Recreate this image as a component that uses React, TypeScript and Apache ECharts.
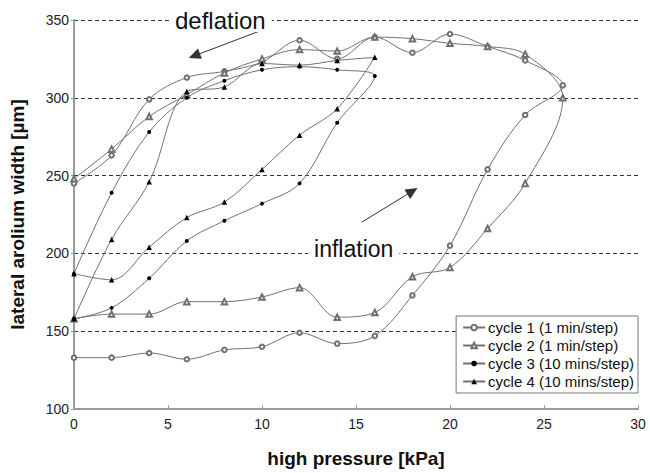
import React, { useEffect, useRef } from "react";
import * as echarts from "echarts";

const pressureUpLong = [0, 2, 4, 6, 8, 10, 12, 14, 16, 18, 20, 22, 24, 26];
const pressureDownLong = [24, 22, 20, 18, 16, 14, 12, 10, 8, 6, 4, 2, 0];
const pressureUpShort = [0, 2, 4, 6, 8, 10, 12, 14, 16];
const pressureDownShort = [14, 12, 10, 8, 6, 4, 2, 0];

const cycle1Up = [133, 133, 136, 132, 138, 140, 149, 142, 147, 173, 205, 254, 289, 308];
const cycle1Down = [324, 333, 341, 329, 339, 325, 337, 323, 317, 313, 299, 263, 245];
const cycle2Up = [158, 161, 161, 169, 169, 172, 178, 159, 162, 185, 191, 216, 245, 300];
const cycle2Down = [328, 333, 335, 338, 339, 330, 331, 325, 316, 302, 288, 267, 248];
const cycle3Up = [158, 165, 184, 208, 221, 232, 245, 284, 314];
const cycle3Down = [318, 320, 318, 311, 300, 278, 239, 187];
const cycle4Up = [187, 183, 204, 223, 233, 254, 276, 293, 326];
const cycle4Down = [324, 321, 322, 307, 304, 246, 209, 158];

const seriesNames = [
  "cycle 1 (1 min/step)",
  "cycle 2 (1 min/step)",
  "cycle 3 (10 mins/step)",
  "cycle 4 (10 mins/step)",
];

const FONT = "'Liberation Sans', Arial, sans-serif";

function pairs(xUp: number[], yUp: number[], xDown: number[], yDown: number[]) {
  const out: number[][] = [];
  xUp.forEach((x, i) => out.push([x, yUp[i]]));
  xDown.forEach((x, i) => out.push([x, yDown[i]]));
  return out;
}

export default function App() {
  const ref = useRef<HTMLDivElement>(null);
  useEffect(() => {
    if (!ref.current) return;
    const chart = echarts.init(ref.current, null, { renderer: "svg" });
    const data = [
      pairs(pressureUpLong, cycle1Up, pressureDownLong, cycle1Down),
      pairs(pressureUpLong, cycle2Up, pressureDownLong, cycle2Down),
      pairs(pressureUpShort, cycle3Up, pressureDownShort, cycle3Down),
      pairs(pressureUpShort, cycle4Up, pressureDownShort, cycle4Down),
    ];
    const symbols = ["emptyCircle", "emptyTriangle", "circle", "triangle"];
    const sizes = [4.5, 5.5, 4, 5.5];
    const series: any[] = data.map((d, i) => ({
      name: seriesNames[i],
      type: "line",
      data: d,
      smooth: 0.35,
      symbol: symbols[i],
      symbolSize: sizes[i],
      showSymbol: true,
      lineStyle: { color: "#707070", width: 1 },
      itemStyle: { color: i < 2 ? "#707070" : "#000", borderWidth: 1 },
      z: 3,
    }));
    series[0].markLine = {
      silent: true,
      symbol: ["none", "triangle"],
      symbolSize: [11, 12],
      label: { show: false },
      lineStyle: { color: "#333", type: "solid", width: 1 },
      data: [
        [{ coord: [9.9, 343] }, { coord: [6.4, 327] }],
        [{ coord: [15.3, 220] }, { coord: [18.0, 240] }],
      ],
    };
    const option: any = {
      animation: false,
      backgroundColor: "#fff",
      grid: { left: 73, right: 12, top: 20, bottom: 64 },
      xAxis: {
        type: "value",
        min: 0,
        max: 30,
        interval: 5,
        name: "high pressure [kPa]",
        nameLocation: "middle",
        nameGap: 40,
        nameTextStyle: { fontFamily: FONT, fontSize: 19, fontWeight: "bold", color: "#111" },
        axisLine: { lineStyle: { color: "#999", width: 2 } },
        axisTick: { inside: true, length: 4, lineStyle: { color: "#999" } },
        axisLabel: { fontFamily: FONT, fontSize: 14, color: "#222", margin: 8 },
        splitLine: { show: false },
      },
      yAxis: {
        type: "value",
        min: 100,
        max: 350,
        interval: 50,
        name: "lateral arolium width [µm]",
        nameLocation: "middle",
        nameGap: 47,
        nameTextStyle: { fontFamily: FONT, fontSize: 19, fontWeight: "bold", color: "#111" },
        axisLine: { show: true, lineStyle: { color: "#999", width: 2 } },
        axisTick: { show: true, length: 3, lineStyle: { color: "#999" } },
        axisLabel: { fontFamily: FONT, fontSize: 14, color: "#222", margin: 5 },
        splitLine: { show: true, lineStyle: { color: "#333", type: [4, 3], width: 1 } },
      },
      legend: {
        orient: "vertical",
        right: 12,
        top: 316,
        data: seriesNames,
        backgroundColor: "#fff",
        borderColor: "#777",
        borderWidth: 1,
        borderRadius: 0,
        padding: [4, 4, 4, 6],
        itemGap: 3,
        itemWidth: 22,
        itemHeight: 7,
        textStyle: { fontFamily: FONT, fontSize: 15, color: "#111", padding: [0, 0, 0, -2] },
      },
      series,
    };
    chart.setOption(option);
    const p1 = chart.convertToPixel({ gridIndex: 0 }, [5.05, 350]) as number[];
    const p2 = chart.convertToPixel({ gridIndex: 0 }, [12.45, 203]) as number[];
    chart.setOption({
      graphic: [
        {
          type: "text",
          x: p1[0],
          y: p1[1],
          z: 10,
          style: {
            text: "deflation",
            fontFamily: FONT,
            fontSize: 24,
            fill: "#111",
            verticalAlign: "middle",
            align: "left",
            backgroundColor: "#fff",
            padding: [0, 6, 0, 6],
          },
        },
        {
          type: "text",
          x: p2[0],
          y: p2[1],
          z: 10,
          style: {
            text: "inflation",
            fontFamily: FONT,
            fontSize: 23,
            fill: "#111",
            verticalAlign: "middle",
            align: "left",
            backgroundColor: "#fff",
            padding: [0, 6, 0, 6],
          },
        },
      ],
    });
    return () => chart.dispose();
  }, []);
  return (
    <div
      ref={ref}
      style={{ position: "fixed", left: 0, top: 0, width: 650, height: 473 }}
    />
  );
}
